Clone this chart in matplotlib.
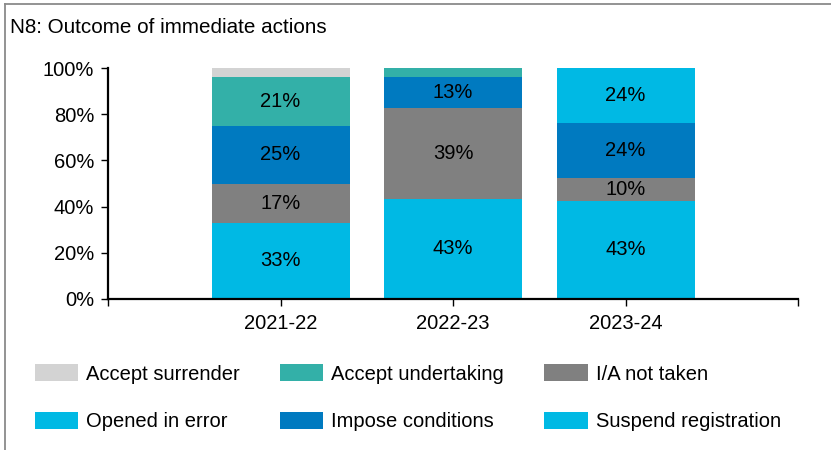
import numpy as np
import matplotlib
matplotlib.use("Agg")
import matplotlib.pyplot as plt
from matplotlib.lines import Line2D
from matplotlib.patches import Patch

plt.rcParams['font.family'] = ['Liberation Sans', 'DejaVu Sans']

years = ['2021-22', '2022-23', '2023-24']

# shares (%) per outcome, bottom to top of the stack
suspend_registration = [33.0, 43.3, 42.6]
ia_not_taken = [16.8, 39.4, 9.6]
impose_conditions = [25.1, 13.2, 24.2]
opened_in_error = [0.0, 0.0, 23.6]
accept_undertaking = [21.2, 4.1, 0.0]
accept_surrender = [3.9, 0.0, 0.0]

series = [
    ('Suspend registration', suspend_registration, '#00B9E4'),
    ('I/A not taken', ia_not_taken, '#808080'),
    ('Impose conditions', impose_conditions, '#007AC0'),
    ('Opened in error', opened_in_error, '#00B9E4'),
    ('Accept undertaking', accept_undertaking, '#33B0A8'),
    ('Accept surrender', accept_surrender, '#D3D3D3'),
]

fig = plt.figure(figsize=(8.31, 4.5), dpi=100)
ax = fig.add_axes([108 / 831, 1 - 299 / 450, 690 / 831, 231 / 450])

x = np.arange(1, len(years) + 1)
bottom = np.zeros(len(years))
handles = {}
for name, vals, col in series:
    vals = np.array(vals)
    ax.bar(x, vals, width=0.8, bottom=bottom, color=col, linewidth=0)
    for xi, b, v in zip(x, bottom, vals):
        if v >= 5:
            ax.text(xi, b + v / 2, f'{v:.0f}%', ha='center', va='center',
                    fontsize=14.5, color='black')
    bottom += vals
    handles[name] = Patch(facecolor=col, edgecolor='none')

ax.set_xlim(0, 4)
ax.set_ylim(0, 100)
ax.set_xticks([0, 1, 2, 3, 4])
ax.set_xticklabels([''] + years + [''])
ax.set_yticks(np.arange(0, 101, 20))
ax.set_yticklabels([f'{v}%' for v in range(0, 101, 20)])
ax.tick_params(axis='both', labelsize=14.5, length=5, width=1, direction='out')
ax.tick_params(axis='x', pad=6)
ax.tick_params(axis='y', pad=5)
for s in ['top', 'right']:
    ax.spines[s].set_visible(False)
for s in ['left', 'bottom']:
    ax.spines[s].set_linewidth(1.6)

fig.text(10 / 831, 1 - 33 / 450, 'N8: Outcome of immediate actions',
         fontsize=14.9, va='baseline', ha='left')

# legend filled column-major, so order gives the row layout
order = ['Accept surrender', 'Opened in error', 'Accept undertaking',
         'Impose conditions', 'I/A not taken', 'Suspend registration']
fig.legend([handles[n] for n in order], order, ncol=3, frameon=False,
           fontsize=14.5, handlelength=2.14, handleheight=0.95,
           handletextpad=0.4, columnspacing=2.0, labelspacing=1.39,
           loc='upper left', bbox_to_anchor=(17 / 831, 1 - 346 / 450))

# outer frame (left and top only)
fig.add_artist(Line2D([5 / 831, 5 / 831], [0, 1 - 4 / 450],
                      transform=fig.transFigure, color='#8a8a8a', lw=1.3))
fig.add_artist(Line2D([5 / 831, 1], [1 - 4 / 450, 1 - 4 / 450],
                      transform=fig.transFigure, color='#8a8a8a', lw=1.3))

fig.savefig('out.png', dpi=100)
